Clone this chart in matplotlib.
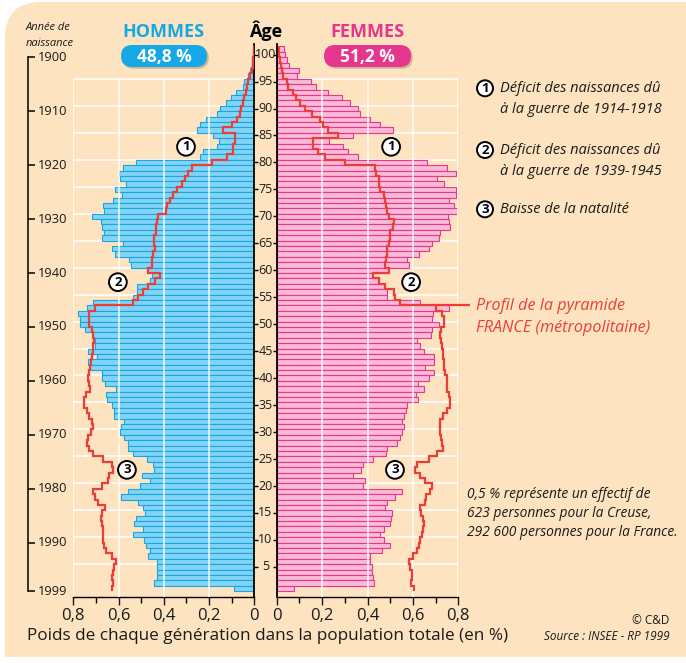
import numpy as np
import matplotlib
matplotlib.use("Agg")
import matplotlib.pyplot as plt
from matplotlib.patches import FancyBboxPatch, Circle, PathPatch
from matplotlib.path import Path
from matplotlib import transforms

plt.rcParams['font.family'] = ['Open Sans', 'DejaVu Sans']

# ---------------------------------------------------------------- data
# Birth years 1899 .. 1999 (ages 100 .. 0 at the 1999 census)
years = np.arange(1899, 2000)

# Creuse - weight of each generation in the total population (%)
creuse_hommes = [
    0.004,                                                              # 1899
    0.006, 0.009, 0.012, 0.019, 0.029, 0.044, 0.052, 0.081, 0.103, 0.125,  # 1900-1909
    0.152, 0.166, 0.213, 0.240, 0.252, 0.181, 0.155, 0.166, 0.227, 0.240,  # 1910-1919
    0.523, 0.579, 0.597, 0.594, 0.567, 0.616, 0.586, 0.623, 0.670, 0.663,  # 1920-1929
    0.716, 0.679, 0.675, 0.664, 0.675, 0.579, 0.630, 0.616, 0.552, 0.546,  # 1930-1939
    0.468, 0.454, 0.461, 0.517, 0.517, 0.538, 0.711, 0.741, 0.778, 0.770,  # 1940-1949
    0.771, 0.750, 0.712, 0.704, 0.704, 0.737, 0.696, 0.733, 0.728, 0.675,  # 1950-1959
    0.675, 0.660, 0.611, 0.655, 0.652, 0.630, 0.619, 0.620, 0.574, 0.590,  # 1960-1969
    0.593, 0.574, 0.560, 0.557, 0.535, 0.476, 0.446, 0.442, 0.497, 0.461,  # 1970-1979
    0.505, 0.557, 0.590, 0.512, 0.490, 0.482, 0.523, 0.532, 0.493, 0.535,  # 1980-1989
    0.488, 0.480, 0.461, 0.468, 0.432, 0.432, 0.432, 0.429, 0.442, 0.090,  # 1990-1999
]
creuse_femmes = [
    0.034,
    0.037, 0.045, 0.056, 0.099, 0.088, 0.150, 0.174, 0.228, 0.287, 0.324,
    0.356, 0.368, 0.409, 0.456, 0.512, 0.338, 0.232, 0.290, 0.316, 0.357,
    0.662, 0.750, 0.790, 0.706, 0.735, 0.791, 0.791, 0.757, 0.779, 0.816,
    0.753, 0.757, 0.765, 0.721, 0.713, 0.684, 0.669, 0.625, 0.574, 0.585,
    0.493, 0.424, 0.449, 0.478, 0.485, 0.485, 0.632, 0.757, 0.688, 0.684,
    0.713, 0.684, 0.681, 0.618, 0.632, 0.650, 0.691, 0.694, 0.654, 0.691,
    0.672, 0.621, 0.650, 0.615, 0.622, 0.576, 0.571, 0.559, 0.554, 0.562,
    0.551, 0.541, 0.532, 0.485, 0.482, 0.426, 0.382, 0.372, 0.338, 0.390,
    0.382, 0.551, 0.519, 0.488, 0.475, 0.507, 0.504, 0.500, 0.471, 0.456,
    0.474, 0.497, 0.463, 0.409, 0.412, 0.419, 0.422, 0.424, 0.429, 0.078,
]

# Metropolitan France profile (%)
france_hommes = [
    0.000,
    0.003, 0.005, 0.007, 0.012, 0.019, 0.027, 0.031, 0.037, 0.044, 0.052,
    0.059, 0.063, 0.078, 0.100, 0.137, 0.085, 0.085, 0.093, 0.096, 0.122,
    0.189, 0.277, 0.292, 0.306, 0.321, 0.343, 0.358, 0.373, 0.384, 0.390,
    0.424, 0.429, 0.434, 0.436, 0.443, 0.443, 0.440, 0.449, 0.451, 0.454,
    0.468, 0.417, 0.440, 0.471, 0.493, 0.513, 0.538, 0.704, 0.729, 0.729,
    0.729, 0.719, 0.711, 0.708, 0.711, 0.714, 0.719, 0.723, 0.726, 0.729,
    0.733, 0.729, 0.726, 0.743, 0.753, 0.753, 0.741, 0.729, 0.719, 0.711,
    0.722, 0.733, 0.738, 0.730, 0.711, 0.667, 0.630, 0.623, 0.641, 0.645,
    0.675, 0.711, 0.704, 0.689, 0.660, 0.675, 0.679, 0.675, 0.670, 0.667,
    0.667, 0.664, 0.655, 0.630, 0.611, 0.620, 0.626, 0.630, 0.623, 0.630,
]
france_femmes = [
    0.012,
    0.012, 0.015, 0.018, 0.022, 0.029, 0.044, 0.051, 0.074, 0.085, 0.103,
    0.125, 0.154, 0.191, 0.203, 0.228, 0.268, 0.162, 0.162, 0.184, 0.213,
    0.301, 0.434, 0.438, 0.449, 0.449, 0.456, 0.471, 0.478, 0.482, 0.488,
    0.493, 0.518, 0.512, 0.500, 0.497, 0.493, 0.485, 0.485, 0.482, 0.478,
    0.493, 0.424, 0.449, 0.478, 0.515, 0.522, 0.541, 0.703, 0.728, 0.738,
    0.735, 0.724, 0.721, 0.724, 0.728, 0.732, 0.732, 0.735, 0.738, 0.743,
    0.750, 0.750, 0.750, 0.757, 0.762, 0.762, 0.750, 0.732, 0.721, 0.718,
    0.718, 0.724, 0.728, 0.732, 0.706, 0.669, 0.618, 0.610, 0.632, 0.654,
    0.684, 0.676, 0.659, 0.654, 0.632, 0.635, 0.644, 0.647, 0.643, 0.640,
    0.632, 0.625, 0.618, 0.600, 0.581, 0.588, 0.596, 0.596, 0.593, 0.603,
]

part_hommes = "48,8 %"
part_femmes = "51,2 %"
age_labels = list(range(5, 101, 5))
year_labels = [1900, 1910, 1920, 1930, 1940, 1950, 1960, 1970, 1980, 1990, 1999]
x_ticks = [0, 0.2, 0.4, 0.6, 0.8]
x_ticklabels = ["0", "0,2", "0,4", "0,6", "0,8"]

# ---------------------------------------------------------------- style
CREAM = "#FDE3C0"
CYAN_FILL, CYAN_EDGE, CYAN_TXT = "#82D4F6", "#19A6E0", "#14A9E6"
PINK_FILL, PINK_EDGE, PINK_TXT = "#F8BAD6", "#E8388D", "#E5358C"
RED = "#EA3E38"
INK = "#1a1a1a"

W, H = 686, 663
fig = plt.figure(figsize=(W / 100, H / 100), dpi=100)
fig.patch.set_facecolor("white")
T = fig.dpi_scale_trans


def P(x, y):
    """pixel position (from top-left) -> inches for dpi_scale_trans"""
    return x / 100.0, (H - y) / 100.0


def ptext(x, y, s, **kw):
    xi, yi = P(x, y)
    return fig.text(xi, yi, s, transform=T, **kw)


# cream background with a rounded top-left corner
r = 36
pts = [P(5, 657), P(5, 2 + r), P(5, 2), P(5 + r, 2), P(W + 2, 2), P(W + 2, 657), P(5, 657)]
codes = [Path.MOVETO, Path.LINETO, Path.CURVE3, Path.CURVE3, Path.LINETO, Path.LINETO, Path.CLOSEPOLY]
fig.patches.append(PathPatch(Path(pts, codes), transform=T, facecolor=CREAM, edgecolor="none", zorder=-10))

# ---------------------------------------------------------------- panels
Y_TOP, Y_BOT = 1898.0, 2000.52
px_top, px_bot = 43.8, 596.7
ax_h = (px_bot - px_top) / H
axL = fig.add_axes([73.3 / W, 1 - px_bot / H, (254.3 - 73.3) / W, ax_h])
axR = fig.add_axes([276.7 / W, 1 - px_bot / H, (458.3 - 276.7) / W, ax_h])

edges = np.arange(1898.5, 2000.0, 1.0)
grid_years = np.arange(1904.5, 1995.0, 5.0)

for ax, vals, fr, fill, edge in [
    (axL, creuse_hommes, france_hommes, CYAN_FILL, CYAN_EDGE),
    (axR, creuse_femmes, france_femmes, PINK_FILL, PINK_EDGE),
]:
    ax.set_facecolor("none")
    ax.set_ylim(Y_BOT, Y_TOP)
    ax.hlines(grid_years, 0, 0.8, color="white", lw=1.1, zorder=0.5)
    ax.barh(years, vals, height=1.0, color=fill, edgecolor=edge, linewidth=0.8, zorder=2)
    ax.vlines([0.2, 0.4, 0.6, 0.8], 1904.5, Y_BOT, color="white", lw=1.1, alpha=0.9, zorder=3)
    ax.stairs(fr, edges, orientation="horizontal", baseline=None, color=RED, lw=1.6, zorder=4)
    for s in ax.spines.values():
        s.set_visible(False)
    ax.spines["bottom"].set_visible(True)
    ax.spines["bottom"].set_linewidth(1.0)
    ax.set_xticks(x_ticks)
    ax.set_xticklabels(x_ticklabels)
    ax.set_xticks(np.arange(0.1, 0.8, 0.2), minor=True)
    ax.tick_params(axis="x", which="major", length=6, width=1, direction="out",
                   labelsize=12, pad=2, colors=INK)
    ax.tick_params(axis="x", which="minor", length=4, width=1, direction="out")
    ax.set_yticks([2000 - a for a in age_labels])
    ax.set_yticklabels([])

axL.set_xlim(0.8, 0)
axR.set_xlim(0, 0.8)
axL.spines["right"].set_visible(True)
axL.spines["right"].set_linewidth(1.3)
axR.spines["left"].set_visible(True)
axR.spines["left"].set_linewidth(1.3)
axL.yaxis.tick_right()
axL.tick_params(axis="y", length=3, width=1, direction="out", labelright=False)
axR.tick_params(axis="y", length=3, width=1, direction="out", labelleft=False)

# age labels between the two panels
age_tr = transforms.blended_transform_factory(fig.transFigure, axR.transData)
for a in age_labels:
    fig.text(265.5 / W, 2000 - a, str(a), transform=age_tr, ha="center", va="center",
             fontsize=9, color=INK)

# France label leader line, starting at the 1947 step of the female profile
y47 = int(np.where(years == 1947)[0][0])
axR.plot([france_femmes[y47], 0.852], [1946.5, 1946.5], color=RED, lw=1.6,
         clip_on=False, zorder=4, solid_capstyle="butt")

# circled markers on the panels
def circ(ax, x, y, n):
    ax.text(x, y, n, ha="center", va="center", fontsize=9.5, fontweight="bold", color="black",
            zorder=6, bbox=dict(boxstyle="circle,pad=0.18", fc="white", ec="black", lw=1.4))

circ(axL, 0.302, 1917.1, "1")
circ(axR, 0.504, 1917.1, "1")
circ(axL, 0.603, 1942.2, "2")
circ(axR, 0.592, 1942.2, "2")
circ(axL, 0.563, 1977.0, "3")
circ(axR, 0.521, 1977.0, "3")

# ---------------------------------------------------------------- birth year axis
axY = fig.add_axes([27.7 / W, 1 - px_bot / H, (70 - 27.7) / W, ax_h])
axY.set_facecolor("none")
axY.set_ylim(Y_BOT, Y_TOP)
axY.set_xlim(0, 1)
for s in ["top", "right", "bottom"]:
    axY.spines[s].set_visible(False)
axY.spines["left"].set_bounds(year_labels[0] + 0.5, year_labels[-1] + 0.5)
axY.spines["left"].set_linewidth(1.1)
axY.set_xticks([])
axY.set_yticks([y + 0.5 for y in year_labels])
axY.tick_params(axis="y", direction="in", length=5, width=1.1, labelleft=False)
for y in year_labels:
    axY.text(10.5 / 42.3, y + 0.5, str(y), transform=axY.get_yaxis_transform(),
             ha="left", va="center", fontsize=9.3, color=INK)

# ---------------------------------------------------------------- header
ptext(26, 28, "Année de", fontsize=8, style="italic", color=INK, ha="left", va="center")
ptext(26, 44, "naissance", fontsize=8, style="italic", color=INK, ha="left", va="center")
ptext(163.5, 32, "HOMMES", fontsize=13, fontweight="bold", color=CYAN_TXT, ha="center", va="center")
ptext(367.5, 32, "FEMMES", fontsize=13, fontweight="bold", color=PINK_TXT, ha="center", va="center")
ptext(265.5, 31, "Âge", fontsize=13, fontweight="bold", color="black", ha="center", va="center")


def badge(x0, x1, y0, y1, color, txt):
    w, h = (x1 - x0) / 100, (y1 - y0) / 100
    xi, yi = P(x0, y1)
    sh = FancyBboxPatch((xi + 0.018, yi - 0.018), w, h, boxstyle="round,pad=0,rounding_size=0.11",
                        transform=T, fc="#B9A58A", ec="none", alpha=0.7, zorder=5)
    bx = FancyBboxPatch((xi, yi), w, h, boxstyle="round,pad=0,rounding_size=0.11",
                        transform=T, fc=color, ec="none", zorder=6)
    fig.patches.extend([sh, bx])
    ptext((x0 + x1) / 2, (y0 + y1) / 2 + 0.5, txt, fontsize=12.5, fontweight="bold", color="white",
          ha="center", va="center", zorder=7)


badge(121, 207, 45, 67, CYAN_TXT, part_hommes)
badge(324, 411, 45, 67, PINK_TXT, part_femmes)

# ---------------------------------------------------------------- legend on the right
def fig_circ(x, y, n):
    xi, yi = P(x, y)
    fig.patches.append(Circle((xi, yi), 0.08, transform=T, fc="white", ec="black", lw=1.4, zorder=6))
    ptext(x, y + 0.3, n, fontsize=9.5, fontweight="bold", ha="center", va="center", color="black", zorder=7)


legend_items = [
    ("1", 88.3, ["Déficit des naissances dû", "à la guerre de 1914-1918"]),
    ("2", 150.0, ["Déficit des naissances dû", "à la guerre de 1939-1945"]),
    ("3", 209.3, ["Baisse de la natalité"]),
]
for n, y, lines in legend_items:
    fig_circ(485, y, n)
    for i, line in enumerate(lines):
        ptext(500, y + i * 21.5, line, fontsize=10.5, style="italic", color=INK, ha="left", va="center")

ptext(476, 305.7, "Profil de la pyramide", fontsize=11.6, style="italic", color=RED, ha="left", va="center")
ptext(476, 327.7, "FRANCE (métropolitaine)", fontsize=11.6, style="italic", color=RED, ha="left", va="center")

note = ["0,5 % représente un effectif de", "623 personnes pour la Creuse,", "292 600 personnes pour la France."]
for i, line in enumerate(note):
    ptext(467, 495 + i * 18.8, line, fontsize=9.9, style="italic", color=INK, ha="left", va="center")

# ---------------------------------------------------------------- footer
ptext(27, 636, "Poids de chaque génération dans la population totale (en %)", fontsize=12.3,
      color=INK, ha="left", va="center")
ptext(669, 621, "© C&D", fontsize=8.5, color=INK, ha="right", va="center")
ptext(670, 637, "Source : INSEE - RP 1999", fontsize=8.5, style="italic", color=INK, ha="right", va="center")

fig.savefig("out.png", dpi=100, facecolor=fig.get_facecolor())
